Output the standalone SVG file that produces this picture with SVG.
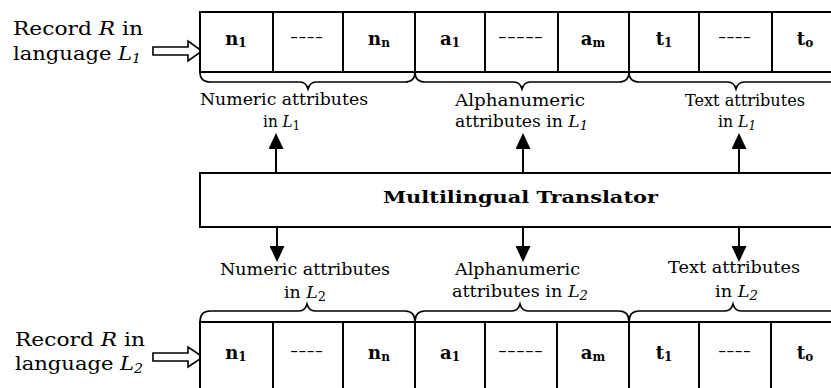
<svg xmlns="http://www.w3.org/2000/svg" width="831" height="388" viewBox="0 0 831 388">
  <style>
    .box { fill: #fff; stroke: #000; stroke-width: 2; }
    .div { stroke: #000; stroke-width: 2; }
    .brace { fill: none; stroke: #000; stroke-width: 1.6; }
    .lbl { font-family: "DejaVu Serif", "Liberation Serif", serif; font-size: 16px; fill: #000; }
    .rec { font-family: "DejaVu Serif", "Liberation Serif", serif; font-size: 18px; fill: #000; }
    .cell { font-family: "DejaVu Serif", "Liberation Serif", serif; font-size: 18px; font-weight: bold; fill: #000; text-anchor: middle; }
    .dash { font-family: "DejaVu Serif", "Liberation Serif", serif; font-size: 15px; fill: #000; }
    .title { font-family: "DejaVu Serif", "Liberation Serif", serif; font-size: 17px; font-weight: bold; fill: #000; }
    .it { font-style: italic; }
    .sub { font-size: 12px; }
    .csub { font-size: 12px; }
    .link { stroke: #000; stroke-width: 2; fill: none; }
    .hollow { fill: #fff; stroke: #000; stroke-width: 1.6; }
  </style>
  <defs>
    <marker id="tri" viewBox="0 0 16 15" refX="1" refY="7.5" markerWidth="16" markerHeight="15" markerUnits="userSpaceOnUse" orient="auto">
      <path d="M0,0 L16,7.5 L0,15 Z" fill="#000"/>
    </marker>
  </defs>

  <!-- record in language L1 -->
  <g id="record-l1">
    <text class="rec" x="13" y="35" textLength="130" lengthAdjust="spacingAndGlyphs">Record <tspan class="it">R</tspan> in</text>
    <text class="rec" x="13" y="60" textLength="128" lengthAdjust="spacingAndGlyphs">language <tspan class="it">L</tspan><tspan class="it sub" dy="3">1</tspan></text>
    <polygon class="hollow" points="153,47 188,47 188,41 202,51 188,61 188,55 153,55"/>
    <rect class="box" x="200" y="12" width="650" height="60"/>
    <g class="div">
      <line x1="273" y1="12" x2="273" y2="72"/>
      <line x1="343" y1="12" x2="343" y2="72"/>
      <line x1="415" y1="12" x2="415" y2="72"/>
      <line x1="485" y1="12" x2="485" y2="72"/>
      <line x1="558" y1="12" x2="558" y2="72"/>
      <line x1="629" y1="12" x2="629" y2="72"/>
      <line x1="699" y1="12" x2="699" y2="72"/>
      <line x1="772" y1="12" x2="772" y2="72"/>
    </g>
    <text class="cell" x="236" y="45">n<tspan class="csub" dy="2">1</tspan></text>
    <text class="dash" x="290" y="42" textLength="33" lengthAdjust="spacingAndGlyphs">----</text>
    <text class="cell" x="379" y="45">n<tspan class="csub" dy="2">n</tspan></text>
    <text class="cell" x="450" y="45">a<tspan class="csub" dy="2">1</tspan></text>
    <text class="dash" x="498" y="42" textLength="45" lengthAdjust="spacingAndGlyphs">-----</text>
    <text class="cell" x="593" y="45">a<tspan class="csub" dy="2">m</tspan></text>
    <text class="cell" x="664" y="45">t<tspan class="csub" dy="2">1</tspan></text>
    <text class="dash" x="718" y="42" textLength="33" lengthAdjust="spacingAndGlyphs">----</text>
    <text class="cell" x="805" y="45">t<tspan class="csub" dy="2">o</tspan></text>
    <path class="brace" d="M200,72 Q200,82 210,82 H300 Q306,82 308,89 Q310,82 316,82 H405 Q415,82 415,72"/>
    <path class="brace" d="M415,72 Q415,82 425,82 H514 Q520,82 522,89 Q524,82 530,82 H619 Q629,82 629,72"/>
    <path class="brace" d="M629,72 Q629,82 639,82 H728 Q734,82 736,89 Q738,82 744,82 H833 Q843,82 843,72"/>
    <text class="lbl" x="200" y="105" textLength="168" lengthAdjust="spacingAndGlyphs">Numeric attributes</text>
    <text class="lbl" x="263" y="127" textLength="37" lengthAdjust="spacingAndGlyphs">in <tspan class="it">L</tspan><tspan class="sub" dy="3">1</tspan></text>
    <text class="lbl" x="455" y="106" textLength="130" lengthAdjust="spacingAndGlyphs">Alphanumeric</text>
    <text class="lbl" x="455" y="127" textLength="133" lengthAdjust="spacingAndGlyphs">attributes in <tspan class="it">L</tspan><tspan class="it sub" dy="3">1</tspan></text>
    <text class="lbl" x="685" y="106" textLength="120" lengthAdjust="spacingAndGlyphs">Text attributes</text>
    <text class="lbl" x="718" y="127" textLength="38" lengthAdjust="spacingAndGlyphs">in <tspan class="it">L</tspan><tspan class="it sub" dy="3">1</tspan></text>
  </g>

  <!-- translator -->
  <g id="translator">
    <rect class="box" x="200" y="173" width="650" height="54"/>
    <text class="title" x="383" y="203" textLength="275" lengthAdjust="spacingAndGlyphs">Multilingual Translator</text>
  </g>

  <!-- record in language L2 -->
  <g id="record-l2">
    <text class="rec" x="15" y="346" textLength="130" lengthAdjust="spacingAndGlyphs">Record <tspan class="it">R</tspan> in</text>
    <text class="rec" x="15" y="370" textLength="128" lengthAdjust="spacingAndGlyphs">language <tspan class="it">L</tspan><tspan class="it sub" dy="3">2</tspan></text>
    <polygon class="hollow" points="153,353 188,353 188,347 203,357 188,367 188,361 153,361"/>
    <rect class="box" x="200" y="322" width="650" height="80"/>
    <g class="div">
      <line x1="273" y1="322" x2="273" y2="400"/>
      <line x1="343" y1="322" x2="343" y2="400"/>
      <line x1="415" y1="322" x2="415" y2="400"/>
      <line x1="485" y1="322" x2="485" y2="400"/>
      <line x1="557" y1="322" x2="557" y2="400"/>
      <line x1="629" y1="322" x2="629" y2="400"/>
      <line x1="699" y1="322" x2="699" y2="400"/>
      <line x1="771" y1="322" x2="771" y2="400"/>
    </g>
    <text class="cell" x="236" y="359">n<tspan class="csub" dy="2">1</tspan></text>
    <text class="dash" x="290" y="356" textLength="33" lengthAdjust="spacingAndGlyphs">----</text>
    <text class="cell" x="379" y="359">n<tspan class="csub" dy="2">n</tspan></text>
    <text class="cell" x="450" y="359">a<tspan class="csub" dy="2">1</tspan></text>
    <text class="dash" x="498" y="356" textLength="45" lengthAdjust="spacingAndGlyphs">-----</text>
    <text class="cell" x="593" y="359">a<tspan class="csub" dy="2">m</tspan></text>
    <text class="cell" x="664" y="359">t<tspan class="csub" dy="2">1</tspan></text>
    <text class="dash" x="718" y="356" textLength="33" lengthAdjust="spacingAndGlyphs">----</text>
    <text class="cell" x="805" y="359">t<tspan class="csub" dy="2">o</tspan></text>
    <path class="brace" d="M200,322 Q200,311 210,311 H299 Q305,311 307,304 Q309,311 315,311 H405 Q415,311 415,322"/>
    <path class="brace" d="M415,322 Q415,311 425,311 H512 Q518,311 520,304 Q522,311 528,311 H619 Q629,311 629,322"/>
    <path class="brace" d="M629,322 Q629,311 639,311 H725 Q731,311 733,304 Q735,311 741,311 H833 Q843,311 843,322"/>
    <text class="lbl" x="220" y="275" textLength="170" lengthAdjust="spacingAndGlyphs">Numeric attributes</text>
    <text class="lbl" x="284" y="298" textLength="42" lengthAdjust="spacingAndGlyphs">in <tspan class="it">L</tspan><tspan class="sub" dy="3">2</tspan></text>
    <text class="lbl" x="455" y="275" textLength="125" lengthAdjust="spacingAndGlyphs">Alphanumeric</text>
    <text class="lbl" x="452" y="297" textLength="136" lengthAdjust="spacingAndGlyphs">attributes in <tspan class="it">L</tspan><tspan class="it sub" dy="3">2</tspan></text>
    <text class="lbl" x="668" y="273" textLength="132" lengthAdjust="spacingAndGlyphs">Text attributes</text>
    <text class="lbl" x="715" y="297" textLength="43" lengthAdjust="spacingAndGlyphs">in <tspan class="it">L</tspan><tspan class="it sub" dy="3">2</tspan></text>
  </g>

  <!-- connectors between translator and attribute groups -->
  <g id="connectors">
    <line class="link" x1="276" y1="173" x2="276" y2="148" marker-end="url(#tri)"/>
    <line class="link" x1="523" y1="173" x2="523" y2="148" marker-end="url(#tri)"/>
    <line class="link" x1="739" y1="173" x2="739" y2="148" marker-end="url(#tri)"/>
    <line class="link" x1="277" y1="227" x2="277" y2="247" marker-end="url(#tri)"/>
    <line class="link" x1="523" y1="227" x2="523" y2="247" marker-end="url(#tri)"/>
    <line class="link" x1="739" y1="227" x2="739" y2="247" marker-end="url(#tri)"/>
  </g>
</svg>
